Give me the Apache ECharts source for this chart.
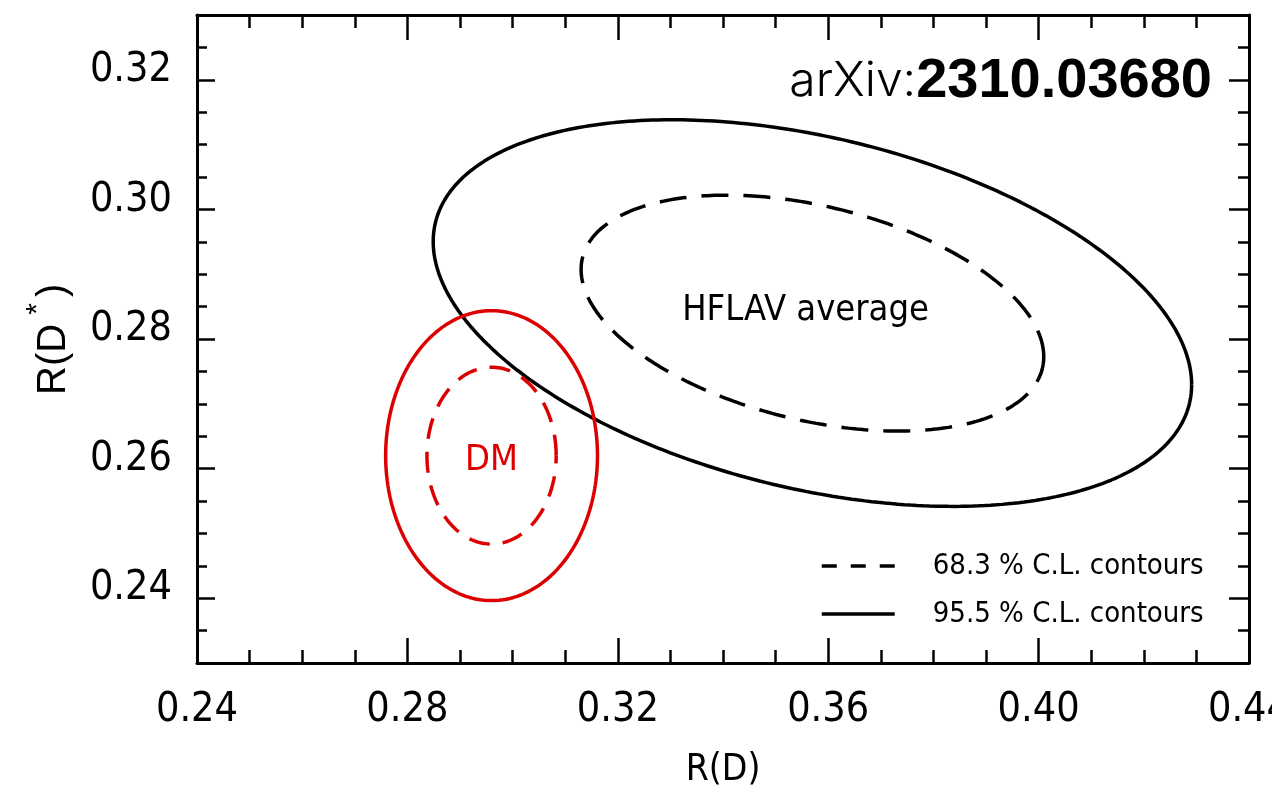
<!DOCTYPE html>
<html>
<head>
<meta charset="utf-8">
<script src="https://cdn.jsdelivr.net/npm/echarts@6/dist/echarts.min.js"></script>
<style>
  html, body { margin: 0; padding: 0; background: #fff; }
  #chart { width: 1272px; height: 789px; }
</style>
</head>
<body>
<div id="chart"></div>
<script>
// Axis ranges and tick positions
const xRange = [0.24, 0.44];
const yRange = [0.23, 0.33];
const xMajorTicks = [0.24, 0.28, 0.32, 0.36, 0.40, 0.44];
const xMinorTicks = [0.25, 0.26, 0.27, 0.29, 0.30, 0.31, 0.33, 0.34, 0.35, 0.37, 0.38, 0.39, 0.41, 0.42, 0.43];
const yMajorTicks = [0.24, 0.26, 0.28, 0.30, 0.32];
const yMinorTicks = [0.235, 0.245, 0.25, 0.255, 0.265, 0.27, 0.275, 0.285, 0.29, 0.295, 0.305, 0.31, 0.315, 0.325];

// Confidence levels and their 2D delta-chi2 values
const contourLevels = ['68.3 % C.L. contours', '95.5 % C.L. contours'];
const deltaChi2 = [2.30, 6.18];

// HFLAV average: central values, uncertainties, correlation
const hflavMean = [0.357, 0.284];
const hflavSigma = [0.029, 0.012];
const hflavRho = -0.37;

// DM prediction: central values, uncertainties, correlation
const dmMean = [0.296, 0.262];
const dmSigma = [0.0081, 0.0090];
const dmRho = 0.0;

// Text labels placed inside the contours
const regionNames = ['HFLAV average', 'DM'];
const regionLabelPos = [[0.3557, 0.2843], [0.2960, 0.2613]];

const BLACK = '#000000';
const RED = '#dd0000';
const NARROW = '"DejaVu Sans Condensed", "Liberation Sans Narrow", sans-serif';
const SANS = '"Liberation Sans", Arial, sans-serif';

// Ellipse of constant delta-chi2 for a bivariate gaussian
function contour(mean, sigma, rho, d2) {
  const k = Math.sqrt(d2);
  const s = Math.sqrt(1 - rho * rho);
  const pts = [];
  const n = 360;
  for (let i = 0; i <= n; i++) {
    const t = 2 * Math.PI * i / n;
    pts.push([
      mean[0] + k * sigma[0] * Math.cos(t),
      mean[1] + k * sigma[1] * (rho * Math.cos(t) + s * Math.sin(t))
    ]);
  }
  return pts;
}

function fmt(v) { return v.toFixed(2); }

function xAxisDef(position, ticks, len, withLabels, showLine) {
  return {
    type: 'value', position: position, min: xRange[0], max: xRange[1],
    axisLine: { show: showLine, onZero: false, lineStyle: { color: BLACK, width: 3 } },
    axisTick: { show: true, inside: true, length: len, customValues: ticks, lineStyle: { color: BLACK, width: 2.5 } },
    axisLabel: withLabels ? {
      show: true, customValues: ticks, formatter: fmt, margin: 27,
      fontFamily: NARROW, fontSize: 41, color: BLACK, hideOverlap: false
    } : { show: false },
    splitLine: { show: false }
  };
}

function yAxisDef(position, ticks, len, withLabels, showLine) {
  return {
    type: 'value', position: position, min: yRange[0], max: yRange[1],
    axisLine: { show: showLine, onZero: false, lineStyle: { color: BLACK, width: 3 } },
    axisTick: { show: true, inside: true, length: len, customValues: ticks, lineStyle: { color: BLACK, width: 2.5 } },
    axisLabel: withLabels ? {
      show: true, customValues: ticks, formatter: fmt, margin: 25,
      fontFamily: NARROW, fontSize: 41, color: BLACK,
      verticalAlign: 'bottom', lineHeight: 19
    } : { show: false },
    splitLine: { show: false }
  };
}

const xAxes = [
  xAxisDef('bottom', xMajorTicks, 25, true, true),
  xAxisDef('bottom', xMinorTicks, 13, false, false),
  xAxisDef('top', xMajorTicks, 25, false, true),
  xAxisDef('top', xMinorTicks, 13, false, false)
];
xAxes[0].name = 'R(D)';
xAxes[0].nameLocation = 'middle';
xAxes[0].nameGap = 89;
xAxes[0].nameTextStyle = { fontFamily: NARROW, fontSize: 37, color: BLACK };

const yAxes = [
  yAxisDef('left', yMajorTicks, 18, true, true),
  yAxisDef('left', yMinorTicks, 10, false, false),
  yAxisDef('right', yMajorTicks, 20, false, true),
  yAxisDef('right', yMinorTicks, 11, false, false)
];

const contourSeries = [];
[0, 1].forEach(function (lvl) {
  contourSeries.push({
    name: contourLevels[lvl],
    type: 'line',
    data: contour(hflavMean, hflavSigma, hflavRho, deltaChi2[lvl]),
    symbol: 'none', smooth: false, silent: true,
    itemStyle: { color: BLACK },
    lineStyle: { color: BLACK, width: 3.5, type: lvl === 0 ? [27, 15] : 'solid' },
    z: 3
  });
});
[0, 1].forEach(function (lvl) {
  contourSeries.push({
    name: 'DM ' + contourLevels[lvl],
    type: 'line',
    data: contour(dmMean, dmSigma, dmRho, deltaChi2[lvl]),
    symbol: 'none', smooth: false, silent: true,
    itemStyle: { color: RED },
    lineStyle: { color: RED, width: 3.5, type: lvl === 0 ? [21, 13] : 'solid' },
    z: 4
  });
});

// Region names, anchored at data coordinates
contourSeries.push({
  type: 'scatter',
  silent: true,
  symbolSize: 1,
  itemStyle: { color: 'rgba(0,0,0,0)', opacity: 1 },
  data: [
    { value: regionLabelPos[0], name: regionNames[0],
      label: { color: BLACK, fontSize: 36 } },
    { value: regionLabelPos[1], name: regionNames[1],
      label: { color: RED, fontSize: 36 } }
  ],
  label: { show: true, position: 'inside', formatter: '{b}', fontFamily: NARROW, opacity: 1, textBorderWidth: 0 },
  z: 5
});

const hiddenSymbol = { color: 'transparent', borderWidth: 0, opacity: 0 };

const chart = echarts.init(document.getElementById('chart'), null, { renderer: 'canvas' });
chart.setOption({
  animation: false,
  backgroundColor: '#ffffff',
  grid: { left: 197, top: 15, width: 1052, height: 648, containLabel: false, outerBoundsMode: 'none' },
  xAxis: xAxes,
  yAxis: yAxes,
  legend: {
    left: 815, top: 543, orient: 'vertical',
    itemWidth: 73, itemHeight: 20, itemGap: 12,
    selectedMode: false,
    itemStyle: hiddenSymbol,
    data: [
      { name: contourLevels[0], lineStyle: { type: [15, 14], width: 3.5 }, itemStyle: hiddenSymbol },
      { name: contourLevels[1], lineStyle: { width: 3.5 }, itemStyle: hiddenSymbol }
    ],
    textStyle: { fontFamily: NARROW, fontSize: 29, color: BLACK, lineHeight: 36, padding: [0, 0, 0, 33] }
  },
  series: contourSeries,
  graphic: [
    {
      // R(D*) vertical axis title, written bottom to top
      type: 'group', x: 68, y: 395, rotation: Math.PI / 2,
      children: [
        { type: 'text', x: 0, y: -14,
          style: { text: 'R(D', fontFamily: SANS, fontSize: 40, fill: BLACK, align: 'left', verticalAlign: 'middle' } },
        { type: 'text', x: 86, y: -30,
          style: { text: '*', fontFamily: SANS, fontSize: 30, fill: BLACK, align: 'center', verticalAlign: 'middle' } },
        { type: 'text', x: 98, y: -14,
          style: { text: ')', fontFamily: SANS, fontSize: 40, fill: BLACK, align: 'left', verticalAlign: 'middle' } }
      ]
    },
    {
      type: 'text', x: 1212, y: 82,
      style: {
        text: '{l|arXiv:}{b|2310.03680}',
        align: 'right', verticalAlign: 'middle',
        rich: {
          l: { fontFamily: 'Inter, Roboto, sans-serif', fontWeight: 300, fontSize: 48, fill: BLACK },
          b: { fontFamily: SANS, fontWeight: 'bold', fontSize: 56, fill: BLACK }
        }
      }
    }
  ]
});
</script>
</body>
</html>
